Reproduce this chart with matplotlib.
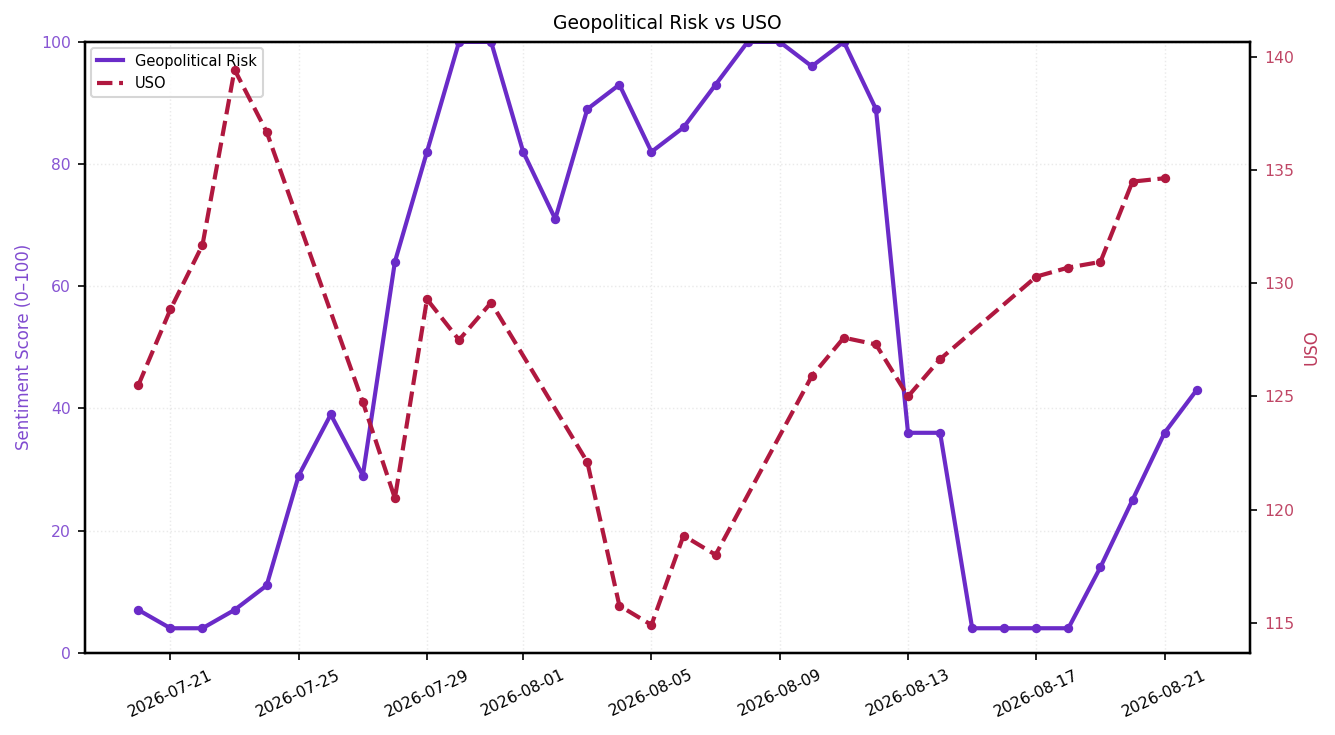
import numpy as np
import pandas as pd
import matplotlib
matplotlib.use("Agg")
import matplotlib.pyplot as plt
import matplotlib.dates as mdates
from matplotlib.lines import Line2D

# daily sentiment score (0-100)
risk_dates = pd.date_range("2026-07-20", "2026-08-22", freq="D")
risk_score = [7, 4, 4, 7, 11, 29, 39, 29, 64, 82, 100, 100, 82, 71, 89, 93, 82,
              86, 93, 100, 100, 96, 100, 89, 36, 36, 4, 4, 4, 4, 14, 25, 36, 43]

# USO closes (trading days only)
uso_dates = pd.bdate_range("2026-07-20", "2026-08-21")
uso_close = [125.5, 128.85, 131.7, 139.45, 136.7,
             124.75, 120.5, 129.3, 127.5, 129.15,
             122.1, 115.75, 114.9, 118.85, 118.0,
             125.9, 127.6, 127.3, 125.0, 126.65,
             130.3, 130.7, 130.95, 134.5, 134.65]

c_risk = "#6a2bc8"
c_uso = "#b0183f"

fig, ax = plt.subplots(figsize=(8.9, 4.9), dpi=150)
fig.subplots_adjust(left=0.064, right=0.936, top=0.943, bottom=0.112)

ax.plot(risk_dates, risk_score, color=c_risk, lw=2, marker="o", ms=3.5)
ax.set_ylim(0, 100)
ax.set_ylabel("Sentiment Score (0\u2013100)", color=c_risk, fontsize=8, alpha=0.85)
ax.tick_params(axis="y", labelcolor=c_risk, labelsize=7.5)
ax.tick_params(axis="x", labelsize=7.5)
ax.grid(True, linestyle=":", color="#dddddd", alpha=0.6, lw=0.7)
for t in ax.get_yticklabels():
    t.set_alpha(0.8)

ax2 = ax.twinx()
ax2.plot(uso_dates, uso_close, color=c_uso, lw=2, ls="--", marker="o", ms=3.5)
ax2.set_ylabel("USO", color=c_uso, fontsize=8, alpha=0.85)
ax2.tick_params(axis="y", labelcolor=c_uso, labelsize=7.5)
for t in ax2.get_yticklabels():
    t.set_alpha(0.8)

for a in (ax, ax2):
    for sp in a.spines.values():
        sp.set_color("black")
        sp.set_linewidth(1.1)

ax.xaxis.set_major_locator(mdates.DayLocator(bymonthday=[1, 5, 9, 13, 17, 21, 25, 29]))
ax.xaxis.set_major_formatter(mdates.DateFormatter("%Y-%m-%d"))
plt.setp(ax.get_xticklabels(), rotation=25)

ax.set_title("Geopolitical Risk vs USO", fontsize=9)
handles = [Line2D([0], [0], color=c_risk, lw=2),
           Line2D([0], [0], color=c_uso, lw=2, ls="--")]
ax.legend(handles, ["Geopolitical Risk", "USO"], loc="upper left", fontsize=7,
          handlelength=1.8, borderaxespad=0.4)

fig.savefig("out.png", dpi=150)
